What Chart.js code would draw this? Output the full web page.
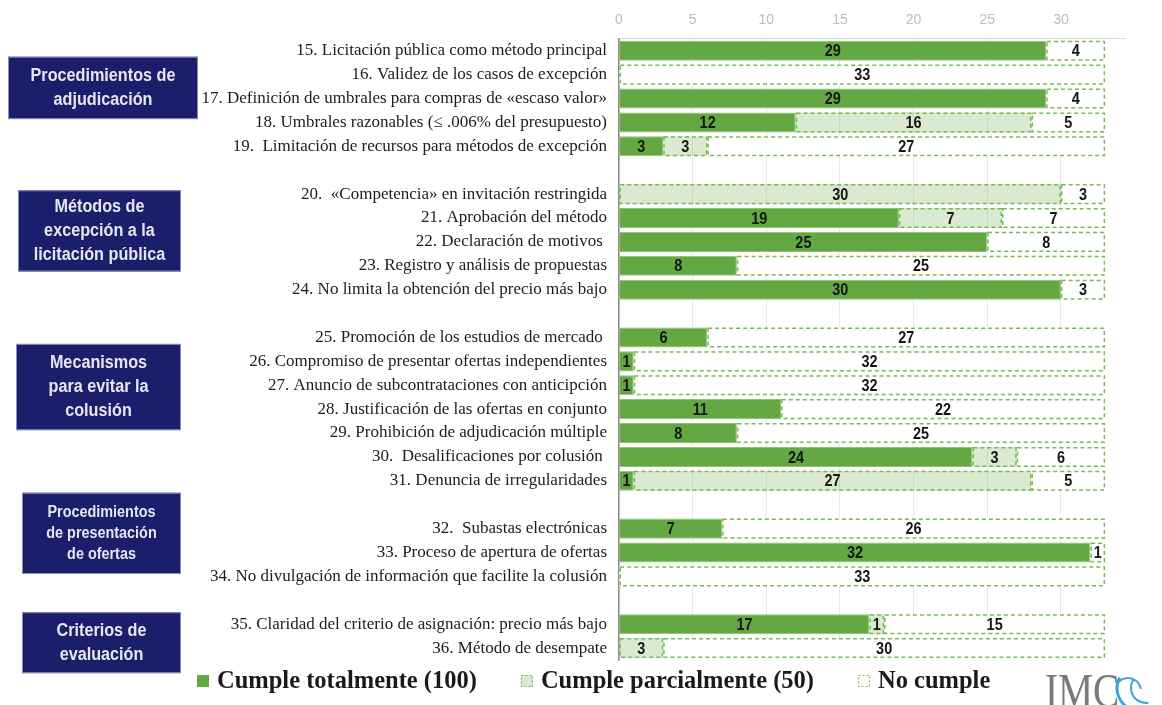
<!DOCTYPE html>
<html>
<head>
<meta charset="utf-8">
<script src="https://cdn.jsdelivr.net/npm/chart.js@4.4.1/dist/chart.umd.min.js"></script>
<style>
html,body{margin:0;padding:0;background:#fff;}
#wrap{position:relative;width:1162px;height:705px;}
</style>
</head>
<body>
<div id="wrap"><canvas id="c" width="1162" height="705"></canvas></div>
<script>
const categories = [
  "15. Licitación pública como método principal",
  "16. Validez de los casos de excepción",
  "17. Definición de umbrales para compras de «escaso valor»",
  "18. Umbrales razonables (≤ .006% del presupuesto)",
  "19.  Limitación de recursos para métodos de excepción",
  "",
  "20.  «Competencia» en invitación restringida",
  "21. Aprobación del método",
  "22. Declaración de motivos ",
  "23. Registro y análisis de propuestas",
  "24. No limita la obtención del precio más bajo",
  "",
  "25. Promoción de los estudios de mercado ",
  "26. Compromiso de presentar ofertas independientes",
  "27. Anuncio de subcontrataciones con anticipción",
  "28. Justificación de las ofertas en conjunto",
  "29. Prohibición de adjudicación múltiple",
  "30.  Desalificaciones por colusión ",
  "31. Denuncia de irregularidades",
  "",
  "32.  Subastas electrónicas",
  "33. Proceso de apertura de ofertas",
  "34. No divulgación de información que facilite la colusión",
  "",
  "35. Claridad del criterio de asignación: precio más bajo",
  "36. Método de desempate"
];
const cumpleTotal   = [29,0,29,12,3,null, 0,19,25,8,30,null, 6,1,1,11,8,24,1,null, 7,32,0,null, 17,0];
const cumpleParcial = [0,0,0,16,3,null, 30,7,0,0,0,null, 0,0,0,0,0,3,27,null, 0,0,0,null, 1,3];
const noCumple      = [4,33,4,5,27,null, 3,7,8,25,3,null, 27,32,32,22,25,6,5,null, 26,1,33,null, 15,30];
const seriesNames = ["Cumple totalmente (100)", "Cumple parcialmente (50)", "No cumple"];
const xTicks = [0,5,10,15,20,25,30];
const groups = [
  {lines:["Procedimientos de","adjudicación"], from:0.25, to:2.86, x0:8, x1:198, size:17},
  {lines:["Métodos de","excepción a la","licitación pública"], from:5.84, to:9.24, x0:18, x1:181, size:17},
  {lines:["Mecanismos","para evitar la","colusión"], from:12.27, to:15.88, x0:16, x1:181, size:17},
  {lines:["Procedimientos","de presentación","de ofertas"], from:18.5, to:21.9, x0:22, x1:181, size:15},
  {lines:["Criterios de","evaluación"], from:23.5, to:26.05, x0:22, x1:181, size:17}
];

const GREEN = '#64A843';
const DASH = '#79B956';
const PARTIAL = 'rgba(140,190,110,0.32)';
const NARROW = 0.9;

const decorations = {
  id:'decorations',
  afterDraw(chart){
    const ctx = chart.ctx, y = chart.scales.y;
    const step = y.getPixelForValue(1) - y.getPixelForValue(0);
    groups.forEach(g=>{
      const top = y.getPixelForValue(0) + g.from*step;
      const bot = y.getPixelForValue(0) + g.to*step;
      ctx.save();
      ctx.fillStyle = '#1B1F6B';
      ctx.fillRect(g.x0, top, g.x1-g.x0, bot-top);
      ctx.strokeStyle = '#8a8fb8';
      ctx.lineWidth = 1;
      ctx.strokeRect(g.x0+0.5, top+0.5, g.x1-g.x0-1, bot-top-1);
      ctx.fillStyle = '#E6E6EF';
      ctx.font = 'bold '+Math.round(g.size*1.08)+'px "Liberation Sans", sans-serif';
      ctx.textAlign = 'center';
      ctx.textBaseline = 'middle';
      const lh = g.size*1.4;
      const cy = (top+bot)/2;
      g.lines.forEach((l,i)=>{
        ctx.save();
        ctx.translate((g.x0+g.x1)/2, cy + (i-(g.lines.length-1)/2)*lh);
        ctx.scale(NARROW,1);
        ctx.fillText(l, 0, 0);
        ctx.restore();
      });
      ctx.restore();
    });

    // legend
    ctx.save();
    ctx.font = 'bold 24.5px "Liberation Serif", serif';
    ctx.textBaseline = 'middle';
    ctx.textAlign = 'left';
    let lx = 197; const ly = 681;
    chart.data.datasets.forEach((ds,i)=>{
      ctx.fillStyle = ds.backgroundColor;
      ctx.fillRect(lx, ly-6, 12, 12);
      if(i>0){
        ctx.strokeStyle = DASH; ctx.lineWidth = 1.2; ctx.setLineDash([2,2]);
        ctx.strokeRect(lx+0.5, ly-5.5, 11, 11);
        ctx.setLineDash([]);
      }
      ctx.fillStyle = '#1a1a1a';
      ctx.fillText(ds.label, lx+20, ly+1);
      lx += 20 + ctx.measureText(ds.label).width + 44;
    });
    ctx.restore();

    // logo
    ctx.save();
    ctx.fillStyle = '#7a7a7a';
    ctx.font = '48px "Liberation Serif", serif';
    ctx.textBaseline = 'alphabetic';
    ctx.textAlign = 'left';
    ctx.translate(1045, 707);
    ctx.scale(0.82,1);
    ctx.fillText('IMC', 0, 0);
    ctx.restore();
    ctx.save();
    ctx.strokeStyle = '#3AA3DC';
    ctx.lineWidth = 3;
    ctx.beginPath(); ctx.arc(1140, 688, 23, Math.PI*1.15, Math.PI*0.4, true); ctx.stroke();
    ctx.lineWidth = 2;
    ctx.beginPath(); ctx.arc(1146, 688, 15, Math.PI*1.2, Math.PI*0.45, true); ctx.stroke();
    ctx.beginPath(); ctx.arc(1128, 691, 13, Math.PI*1.2, Math.PI*1.95, false); ctx.stroke();
    ctx.restore();
  }
};

const dataLabels = {
  id:'dataLabels',
  afterDatasetsDraw(chart){
    const ctx = chart.ctx;
    ctx.save();
    ctx.strokeStyle = DASH;
    ctx.lineWidth = 1.5;
    ctx.setLineDash([4,3]);
    [1,2].forEach(di=>{
      const ds = chart.data.datasets[di];
      chart.getDatasetMeta(di).data.forEach((bar,i)=>{
        if(!ds.data[i]) return;
        const l = Math.min(bar.x, bar.base), r = Math.max(bar.x, bar.base);
        ctx.strokeRect(l+0.75, bar.y - bar.height/2 + 0.75, r-l-1.5, bar.height-1.5);
      });
    });
    ctx.restore();
    ctx.save();
    ctx.font = 'bold 17px "Liberation Sans", sans-serif';
    ctx.fillStyle = '#151515';
    ctx.textAlign = 'center';
    ctx.textBaseline = 'middle';
    chart.data.datasets.forEach((ds,di)=>{
      const meta = chart.getDatasetMeta(di);
      meta.data.forEach((bar,i)=>{
        const v = ds.data[i];
        if(!v) return;
        const cx = (bar.x + bar.base)/2;
        ctx.save();
        ctx.translate(cx, bar.y+1);
        ctx.scale(0.85,1);
        ctx.fillText(String(v), 0, 0);
        ctx.restore();
      });
    });
    ctx.restore();
  }
};

new Chart(document.getElementById('c'), {
  type:'bar',
  data:{
    labels: categories,
    datasets:[
      {label:seriesNames[0], data:cumpleTotal, backgroundColor:GREEN, borderColor:'#8CC36E', borderWidth:1},
      {label:seriesNames[1], data:cumpleParcial, backgroundColor:PARTIAL, borderWidth:0},
      {label:seriesNames[2], data:noCumple, backgroundColor:'#ffffff', borderWidth:0}
    ]
  },
  options:{
    indexAxis:'y',
    responsive:false,
    animation:false,
    layout:{padding:{top:2,right:37,left:0,bottom:45}},
    datasets:{bar:{categoryPercentage:1, barPercentage:0.84}},
    scales:{
      x:{
        position:'top', stacked:true, min:0, max:34.35,
        ticks:{stepSize:5, includeBounds:false, color:'#bdbdbd', padding:10,
          font:{family:'"Liberation Sans", sans-serif', size:14}},
        grid:{color:'#e8e8e8', drawTicks:false},
        border:{color:'#d9d9d9'}
      },
      y:{
        stacked:true,
        afterFit(s){ s.width = 619; },
        ticks:{color:'#1c1c1c', padding:4, autoSkip:false,
          font:{family:'"Liberation Serif", serif', size:17}},
        grid:{display:false},
        border:{color:'#8c8c8c', width:1.5}
      }
    },
    plugins:{
      legend:{display:false},
      tooltip:{enabled:false}
    }
  },
  plugins:[dataLabels, decorations]
});
</script>
</body>
</html>
